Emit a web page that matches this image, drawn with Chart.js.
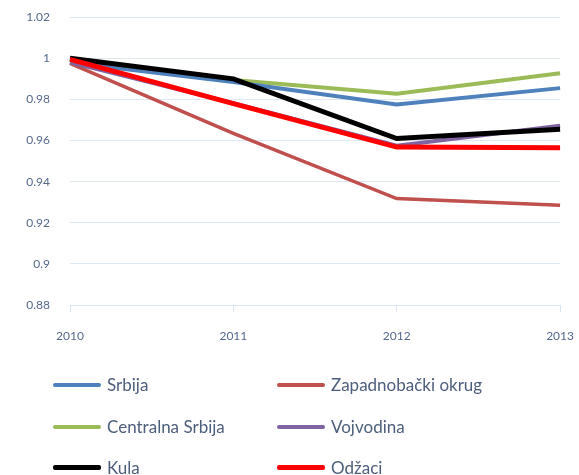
<!DOCTYPE html>
<html>
<head>
<meta charset="utf-8">
<script src="https://cdn.jsdelivr.net/npm/chart.js@4"></script>
<style>
  html, body { margin: 0; padding: 0; background: #fff; }
  #wrap { position: relative; width: 579px; height: 475px; overflow: hidden; }
  #chartBox { position: absolute; left: 0; top: -10px; width: 591px; height: 360px; }
  #legend { position: absolute; left: 0; top: 0; width: 579px; height: 475px; font-family: Lato, "Open Sans", sans-serif; font-size: 17px; color: #4d5e7c; }
  .item { position: absolute; height: 20px; }
  .item span.line { position: absolute; top: 8px; height: 4px; border-radius: 2px; }
  .item span.txt { position: absolute; top: 0; line-height: 20px; white-space: nowrap; }
</style>
</head>
<body>
<div id="wrap">
  <div id="chartBox"><canvas id="chart"></canvas></div>
  <div id="legend"></div>
</div>
<script>
var years = ['2010', '2011', '2012', '2013'];

var srbija = [0.998, 0.9885, 0.9775, 0.9855];
var zapadnobacki = [0.9975, 0.9635, 0.9318, 0.9285];
var centralnaSrbija = [0.998, 0.9895, 0.9828, 0.9927];
var vojvodina = [0.998, 0.9782, 0.9575, 0.9672];
var kula = [1.0, 0.990, 0.961, 0.9655];
var odzaci = [0.9995, 0.978, 0.9568, 0.9565];

var yTicks = [0.88, 0.9, 0.92, 0.94, 0.96, 0.98, 1, 1.02];

// order: lower number is drawn on top
var series = [
    { label: 'Srbija', data: srbija, color: '#4f81bd', width: 4, order: 4 },
    { label: 'Zapadnobački okrug', data: zapadnobacki, color: '#c0504d', width: 3.5, order: 6 },
    { label: 'Centralna Srbija', data: centralnaSrbija, color: '#9bbb59', width: 4, order: 5 },
    { label: 'Vojvodina', data: vojvodina, color: '#8064a2', width: 4, order: 3 },
    { label: 'Kula', data: kula, color: '#000000', width: 5, order: 2 },
    { label: 'Odžaci', data: odzaci, color: '#ff0000', width: 5, order: 1 }
];

var ctx = document.getElementById('chart').getContext('2d');
var chart = new Chart(ctx, {
    type: 'line',
    data: {
        labels: years,
        datasets: series.map(function (s) {
            return {
                label: s.label,
                data: s.data,
                order: s.order,
                borderColor: s.color,
                backgroundColor: s.color,
                borderWidth: s.width,
                pointRadius: 0,
                tension: 0,
                fill: false
            };
        })
    },
    options: {
        responsive: true,
        maintainAspectRatio: false,
        animation: false,
        layout: { padding: 0 },
        scales: {
            x: {
                offset: false,
                grid: { drawOnChartArea: false, tickLength: 7, color: '#dbe5f1' },
                border: { color: '#dbe5f1' },
                ticks: {
                    padding: 17,
                    maxRotation: 0,
                    color: '#55698c',
                    font: { family: 'Lato', size: 12 }
                },
                afterFit: function (scale) { scale.height = 45; }
            },
            y: {
                min: 0.88,
                max: 1.02,
                afterBuildTicks: function (scale) {
                    scale.ticks = yTicks.map(function (v) { return { value: v }; });
                },
                grid: { color: '#dfe8f4', tickLength: 0 },
                border: { display: false },
                ticks: {
                    padding: 20,
                    color: '#55698c',
                    font: { family: 'Lato', size: 12 },
                    callback: function (value) { return String(Math.round(value * 100) / 100); }
                },
                afterFit: function (scale) { scale.width = 70; }
            }
        },
        plugins: {
            legend: { display: false },
            tooltip: { enabled: false }
        }
    }
});

// legend in two columns, built from the same series
var legendEl = document.getElementById('legend');
var colX = [53, 277];
var rowY = [375, 417, 458];
series.forEach(function (s, i) {
    var item = document.createElement('div');
    item.className = 'item';
    item.style.left = colX[i % 2] + 'px';
    item.style.top = rowY[Math.floor(i / 2)] + 'px';
    var line = document.createElement('span');
    line.className = 'line';
    line.style.left = '0px';
    line.style.width = '48px';
    line.style.background = s.color;
    if (s.width >= 5) { line.style.height = '5px'; line.style.top = '7px'; }
    var txt = document.createElement('span');
    txt.className = 'txt';
    txt.style.left = '54px';
    txt.textContent = s.label;
    item.appendChild(line);
    item.appendChild(txt);
    legendEl.appendChild(item);
});
</script>
</body>
</html>
